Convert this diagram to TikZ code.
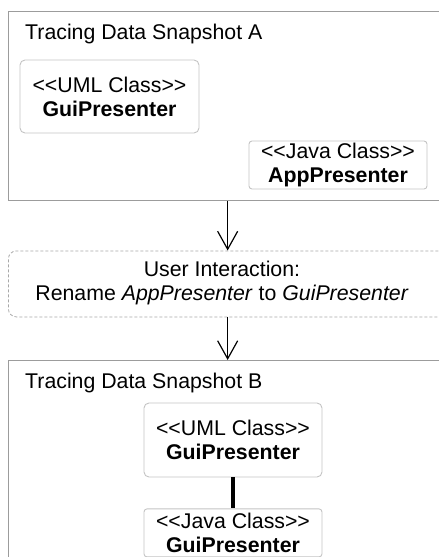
\documentclass[tikz,border=0pt]{standalone}
\usepackage{fontspec}
\setmainfont{Liberation Sans}
\usetikzlibrary{arrows.meta,positioning}

\definecolor{framegray}{HTML}{9C9C9C}
\definecolor{boxgray}{HTML}{C4C4C4}
\definecolor{dashgray}{HTML}{A8A8A8}
\newcommand\stereo[1]{<{}<#1>{}>}

\tikzset{
  every node/.style={font=\fontsize{21.3}{24}\selectfont},
  snapshot/.style={draw=framegray, line width=1.3pt, anchor=north west,
    minimum width=438pt, inner sep=0pt},
  title/.style={anchor=base west, inner sep=0pt},
  umlbox/.style={draw=boxgray, line width=0.9pt, fill=white, rounded corners=5pt,
    align=center, minimum width=179pt, minimum height=73pt, inner sep=1pt},
  javabox/.style={draw=boxgray, line width=0.9pt, fill=white, rounded corners=3pt,
    align=center, minimum width=178pt, minimum height=48pt, inner sep=1pt},
  interaction/.style={draw=dashgray, line width=0.8pt, dash pattern=on 3pt off 2pt,
    rounded corners=8pt, anchor=north west, inner sep=0pt,
    minimum width=438pt, minimum height=66pt},
  flow/.style={line width=1.2pt, -{Straight Barb[length=18pt,width=20pt]}},
  trace/.style={line width=3.5pt}
}

\begin{document}
\begin{tikzpicture}[x=1pt, y=-1pt]
  \clip (0,0) rectangle (439,557);

  % snapshot A
  \node[snapshot, minimum height=189pt] (snapA) at (8,11) {};
  \node[title] (titleA) at (25,39) {Tracing Data Snapshot A};
  \node[umlbox] (umlA) at (109.5,96.5) {\stereo{UML Class}\\\textbf{GuiPresenter}};
  \node[javabox] (javaA) at (338,165) {\stereo{Java Class}\\\textbf{AppPresenter}};

  % user interaction
  \node[interaction] (interact) at (8,250.5) {};
  \node[align=center] (interactText) at (222,282.5)
    {User Interaction:\\Rename \textit{AppPresenter} to \textit{GuiPresenter}};

  % snapshot B
  \node[snapshot, minimum height=230pt] (snapB) at (8,360) {};
  \node[title] (titleB) at (25,388) {Tracing Data Snapshot B};
  \node[umlbox, minimum width=178pt, minimum height=74pt] (umlB) at (233,440)
    {\stereo{UML Class}\\\textbf{GuiPresenter}};
  \node[javabox, anchor=north, below=31pt of umlB] (javaB)
    {\stereo{Java Class}\\\textbf{GuiPresenter}};

  \draw[flow] (snapA.south) -- (snapA.south |- interact.north);
  \draw[flow] (interact.south -| snapB.north) -- (snapB.north);
  \draw[trace] (umlB) -- (javaB);
\end{tikzpicture}
\end{document}
